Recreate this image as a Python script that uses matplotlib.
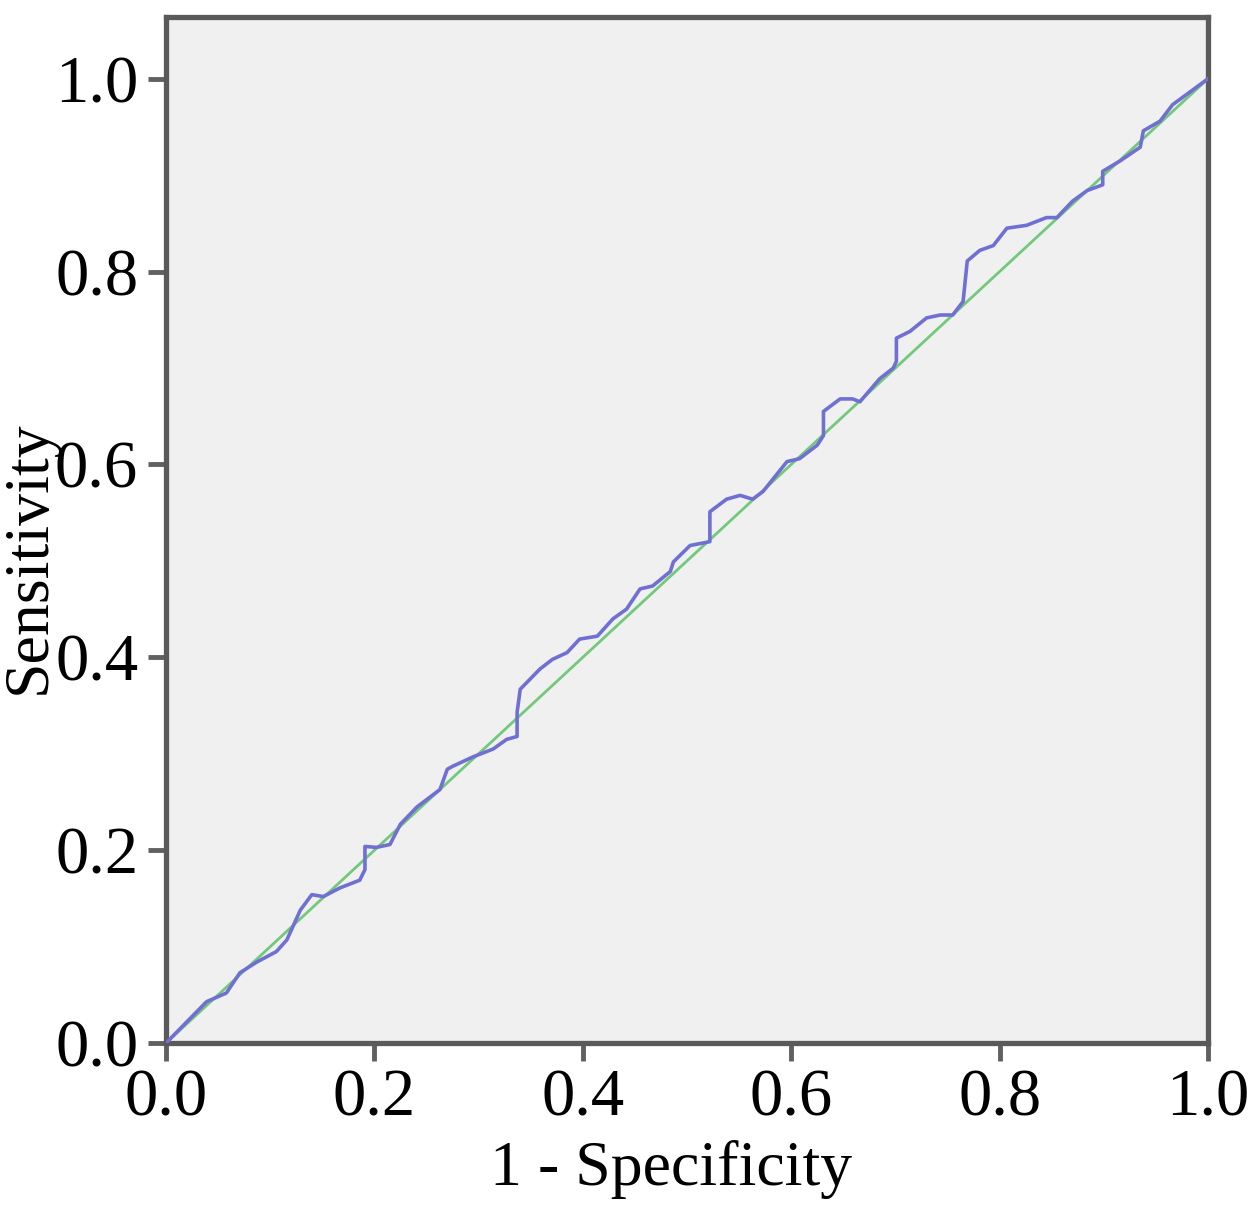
import matplotlib
matplotlib.use("Agg")
import matplotlib.pyplot as plt

# ROC curve (1 - specificity, sensitivity)
fpr = [0.0, 0.039, 0.058, 0.071, 0.087, 0.106, 0.116, 0.129, 0.140, 0.151,
       0.167, 0.186, 0.191, 0.191, 0.202, 0.215, 0.225, 0.241, 0.263, 0.270,
       0.275, 0.295, 0.314, 0.327, 0.337, 0.337, 0.340, 0.359, 0.371, 0.385,
       0.397, 0.414, 0.429, 0.442, 0.455, 0.467, 0.484, 0.487, 0.503, 0.522,
       0.522, 0.538, 0.551, 0.563, 0.573, 0.596, 0.608, 0.625, 0.631, 0.631,
       0.647, 0.659, 0.666, 0.685, 0.698, 0.701, 0.701, 0.714, 0.730, 0.743,
       0.755, 0.765, 0.769, 0.781, 0.794, 0.807, 0.826, 0.845, 0.855, 0.870,
       0.884, 0.899, 0.899, 0.916, 0.935, 0.938, 0.954, 0.966, 1.0]
tpr = [0.0, 0.043, 0.052, 0.073, 0.084, 0.095, 0.107, 0.138, 0.154, 0.152,
       0.161, 0.169, 0.180, 0.204, 0.203, 0.206, 0.227, 0.245, 0.263, 0.284,
       0.287, 0.297, 0.305, 0.315, 0.318, 0.343, 0.367, 0.388, 0.398, 0.405,
       0.419, 0.422, 0.440, 0.450, 0.471, 0.474, 0.489, 0.499, 0.516, 0.520,
       0.551, 0.564, 0.568, 0.564, 0.572, 0.603, 0.606, 0.620, 0.630, 0.655,
       0.668, 0.668, 0.665, 0.689, 0.700, 0.707, 0.731, 0.738, 0.752, 0.755,
       0.755, 0.769, 0.811, 0.822, 0.827, 0.845, 0.848, 0.856, 0.856, 0.873,
       0.884, 0.890, 0.904, 0.915, 0.929, 0.946, 0.956, 0.973, 1.0]
ref_line = [0.0, 1.0]
ticks = [0.0, 0.2, 0.4, 0.6, 0.8, 1.0]

plt.rcParams["font.family"] = ["Liberation Serif", "DejaVu Serif"]

fig = plt.figure(figsize=(12.57, 12.13), dpi=100)
ax = fig.add_axes([0.132, 0.140, 0.829, 0.846])
ax.set_facecolor("#f0f0f0")

ax.plot(ref_line, ref_line, color="#72c97c", lw=2.0, zorder=2)
ax.plot(fpr, tpr, color="#7070d2", lw=2.6, zorder=3)

ax.set_xlim(0, 1)
ax.set_ylim(0, 1.064)
ax.set_xticks(ticks)
ax.set_yticks(ticks)
ax.set_xticklabels([f"{t:.1f}" for t in ticks])
ax.set_yticklabels([f"{t:.1f}" for t in ticks])
ax.tick_params(direction="out", length=13, width=3.5, color="#606060",
               labelsize=48, pad=5)
ax.tick_params(axis="y", pad=7)
for sp in ax.spines.values():
    sp.set_color("#5a5a5a")
    sp.set_linewidth(3.8)

ax.set_xlabel("1 - Specificity", fontsize=46, va="baseline")
ax.xaxis.set_label_coords(0.485, -0.1384)
ax.set_ylabel("Sensitivity", fontsize=46)
ax.yaxis.label.set_va("center")
ax.yaxis.set_label_coords(-0.1305, 0.474)

fig.savefig("out.png", dpi=100)
plt.close(fig)
